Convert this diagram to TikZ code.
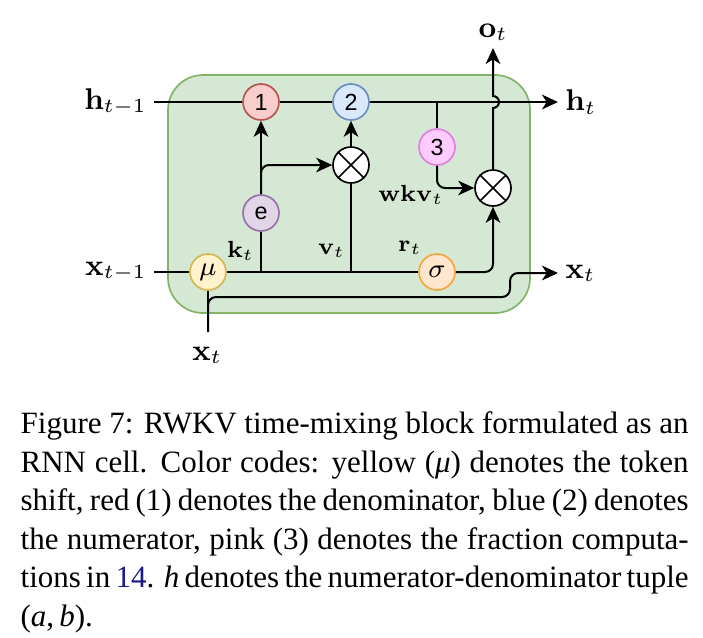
\documentclass[tikz,border=0pt]{standalone}
\usepackage[no-math]{fontspec}
\setmainfont{Liberation Serif}
\newfontfamily\cellsans{Liberation Sans}
\usetikzlibrary{arrows.meta}

\definecolor{cellfill}{HTML}{D5E8D4}
\definecolor{cellline}{HTML}{82B366}
\definecolor{denfill}{HTML}{F8CECC}
\definecolor{denline}{HTML}{B85450}
\definecolor{numfill}{HTML}{DAE8FC}
\definecolor{numline}{HTML}{6C8EBF}
\definecolor{fracfill}{HTML}{FFCCFF}
\definecolor{fracline}{HTML}{DE80DE}
\definecolor{expfill}{HTML}{E1D5E7}
\definecolor{expline}{HTML}{9673A6}
\definecolor{mufill}{HTML}{FFF2CC}
\definecolor{muline}{HTML}{D6B656}
\definecolor{sigfill}{HTML}{FFE6CC}
\definecolor{sigline}{HTML}{F5A540}
\definecolor{linkblue}{HTML}{1A1A8C}

\newcommand{\capline}[1]{\makebox[200.4pt][s]{#1}}

\tikzset{
    op/.style={circle, draw, line width=0.5pt, minimum size=10.8pt, inner sep=0pt,
        font=\cellsans\fontsize{7}{8}\selectfont},
    gate/.style={op, font=\fontsize{8}{9}\selectfont},
    prod/.style={op, draw=black, fill=white},
    io/.style={inner sep=2pt, font=\fontsize{9}{10}\selectfont},
    lbl/.style={inner sep=1pt, font=\fontsize{7.2}{8}\selectfont},
    wire/.style={line width=0.6pt},
    flow/.style={wire, -{Stealth[length=4.8pt, width=4.4pt, inset=1.4pt]}},
}

\begin{document}
\begin{tikzpicture}[x=0.3pt, y=-0.3pt]
    \useasboundingbox (0,0) rectangle (703,637);
    \draw[draw=cellline, fill=cellfill, line width=0.5pt, rounded corners=10.5pt] (168,75) rectangle (530,313);

    \node[io, anchor=east] (hin) at (154,102) {$\mathbf{h}_{t-1}$};
    \node[io, anchor=east] (xin) at (154,272) {$\mathbf{x}_{t-1}$};
    \node[io, anchor=west] (hout) at (558,102) {$\mathbf{h}_t$};
    \node[io, anchor=west] (xout) at (558,273) {$\mathbf{x}_t$};
    \node[io, anchor=south] (oout) at (493,48) {$\mathbf{o}_t$};
    \node[io] (xnow) at (207,355) {$\mathbf{x}_t$};

    \node[op, fill=denfill, draw=denline] (den) at (261,102) {1};
    \node[op, fill=numfill, draw=numline] (num) at (351,102) {2};
    \node[op, fill=fracfill, draw=fracline] (frac) at (437,147) {3};
    \node[op, fill=expfill, draw=expline] (expk) at (261,213) {e};
    \node[gate, fill=mufill, draw=muline] (mu) at (208,272) {$\mu$};
    \node[gate, fill=sigfill, draw=sigline] (sig) at (437,272) {$\sigma$};
    \node[prod] (mulv) at (351,165) {};
    \node[prod] (mulr) at (493,188) {};
    \foreach \m in {mulv, mulr}
        \draw[line width=0.5pt] (\m.north west) -- (\m.south east) (\m.north east) -- (\m.south west);

    \node[lbl, anchor=east] (klbl) at (258,251) {$\mathbf{k}_t$};
    \node[lbl, anchor=east] (vlbl) at (349,251) {$\mathbf{v}_t$};
    \node[lbl] (rlbl) at (410,248) {$\mathbf{r}_t$};
    \node[lbl] (wkvlbl) at (411,195) {$\mathbf{wkv}_t$};

    \coordinate (kj) at (261,272);
    \coordinate (vj) at (351,272);
    \coordinate (fj) at (437,102);
    \coordinate (jump) at (493,108);
    \coordinate (xnowin) at (208,332);
    \coordinate (xstep) at (510,297);

    \draw[wire] (hin.east) -- (den.west);
    \draw[wire] (den.east) -- (num.west);
    \draw[flow] (num.east) -- (hout.west);
    \draw[wire] (fj) -- (frac.north);
    \draw[flow, rounded corners=2.4pt] (frac.south) |- (mulr.west);

    \draw[wire] (xin.east) -- (mu.west);
    \draw[wire] (mu.east) -- (sig.west);
    \draw[wire] (kj) -- (expk.south);
    \draw[flow] (expk.north) -- (den.south);
    \draw[flow, rounded corners=2.4pt] (expk.north) |- (mulv.west);
    \draw[wire] (vj) -- (mulv.south);
    \draw[flow] (mulv.north) -- (num.south);
    \draw[flow, rounded corners=2.4pt] (sig.east) -| (mulr.south);
    \draw[flow] (mulr.north) -- (jump) arc[start angle=90, end angle=-90, radius=6] -- (oout.south);

    \draw[wire] (xnowin) -- (mu.south);
    \draw[flow, rounded corners=2.4pt] (xnowin) |- (xstep) |- (xout.west);

    \node[anchor=north west, inner sep=0pt, align=left, font=\fontsize{9.3}{11.55}\selectfont] (caption) at (20,411)
        {\capline{Figure 7: RWKV time-mixing block formulated as an}\\
         \capline{RNN cell. Color codes: yellow (\textit{μ}) denotes the token}\\
         \capline{shift, red (1) denotes the denominator, blue (2) denotes}\\
         \capline{the numerator, pink (3) denotes the fraction computa-}\\
         \capline{tions in \textcolor{linkblue}{14}. \textit{h} denotes the numerator-denominator tuple}\\
         (\textit{a},\,\textit{b}).};
\end{tikzpicture}
\end{document}
